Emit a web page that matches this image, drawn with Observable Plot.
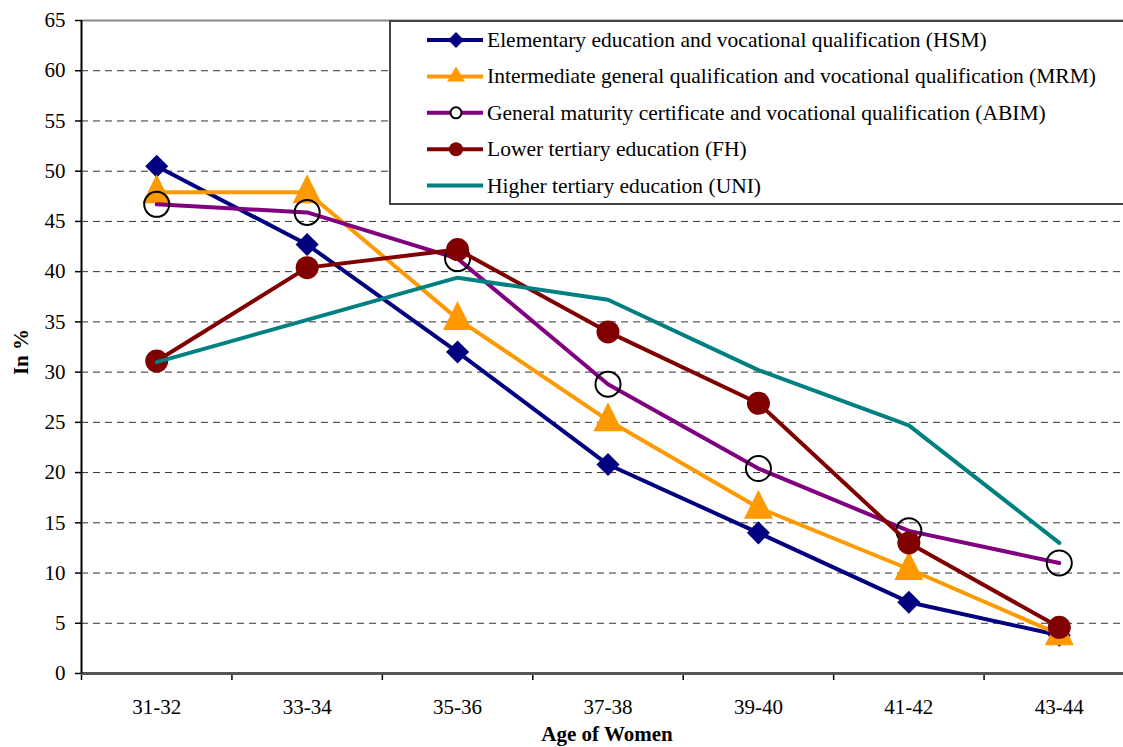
<!DOCTYPE html>
<html><head><meta charset="utf-8">
<script src="https://cdn.jsdelivr.net/npm/d3@7"></script>
<script src="https://cdn.jsdelivr.net/npm/@observablehq/plot@0.6"></script>
<style>
html,body{margin:0;padding:0;background:#fff;overflow:hidden}
#wrap{position:relative;width:1123px;height:747px;overflow:hidden;font-family:"Liberation Serif","Times New Roman",serif;color:#000}
#wrap svg.plot{position:absolute;left:0;top:0}
.ttl{position:absolute;font-weight:bold;font-size:21px;white-space:nowrap;line-height:1}
#legend{position:absolute;left:389px;top:20px;width:820px;height:181px;border:2px solid #444;background:#fff}
</style></head><body><div id="wrap"></div>
<script>
// ---- data ----
const ages = ["31-32","33-34","35-36","37-38","39-40","41-42","43-44"];
const seriesNames = [
  "Elementary education and vocational qualification (HSM)",
  "Intermediate general qualification and vocational qualification (MRM)",
  "General maturity certificate and vocational qualification (ABIM)",
  "Lower tertiary education (FH)",
  "Higher tertiary education (UNI)"
];
const hsm  = [50.5, 42.7, 32.0, 20.8, 14.0, 7.1, 3.8];
const mrm  = [47.9, 47.9, 35.3, 25.2, 16.5, 10.4, 3.9];
const abim = [46.7, 45.9, 41.3, 28.8, 20.4, 14.2, 11.0];
const fh   = [31.1, 40.4, 42.2, 34.0, 26.9, 13.0, 4.6];
const uni  = [31.0, 35.2, 39.4, 37.2, 30.2, 24.7, 13.0];
const seriesValues = [hsm, mrm, abim, fh, uni];
const seriesColors = ["#000080", "#FF9900", "#800080", "#800000", "#008080"];
const yTicks = [0,5,10,15,20,25,30,35,40,45,50,55,60,65];

// ---- build ----
const idx = ages.map((_, i) => i);
const bounds = ages.map((_, i) => i - 0.5).concat([ages.length - 0.5]);
const rows = seriesValues.map(vals => vals.map((v, i) => ({i, v})));

const triangle = {
  draw(ctx, size) {
    const r = Math.sqrt(size / Math.PI);
    const w = r * 1.45, h = r * 2.9;
    ctx.moveTo(0, -0.62 * h);
    ctx.lineTo(w, 0.38 * h);
    ctx.lineTo(-w, 0.38 * h);
    ctx.closePath();
  }
};

const lineW = 4;
const marks = [
  Plot.ruleY(yTicks.filter(t => t > 0 && t < 65), {stroke: "#333", strokeWidth: 1, strokeDasharray: "7,5"}),
  Plot.ruleY([65], {stroke: "#888", strokeWidth: 2}),
  Plot.axisY(yTicks, {tickSize: 6, tickPadding: 10, fontSize: 21, stroke: "#000", strokeWidth: 1.5, label: null}),
  Plot.axisX(bounds, {tickSize: 7, tickFormat: () => "", stroke: "#000", strokeWidth: 1.5, label: null}),
  Plot.axisX(idx, {tickSize: 0, tickPadding: 26, tickFormat: i => ages[i], fontSize: 21, label: null}),
  // HSM
  Plot.line(rows[0], {x: "i", y: "v", stroke: seriesColors[0], strokeWidth: lineW}),
  Plot.dot(rows[0], {x: "i", y: "v", symbol: "diamond2", r: 10.4, fill: seriesColors[0], stroke: "none"}),
  // MRM
  Plot.line(rows[1], {x: "i", y: "v", stroke: seriesColors[1], strokeWidth: lineW}),
  Plot.dot(rows[1], {x: "i", y: "v", symbol: triangle, r: 10, fill: seriesColors[1], stroke: "none"}),
  // ABIM
  Plot.line(rows[2], {x: "i", y: "v", stroke: seriesColors[2], strokeWidth: lineW}),
  Plot.dot(rows[2], {x: "i", y: "v", r: 12.5, fill: "none", stroke: "#000", strokeWidth: 2}),
  // FH
  Plot.line(rows[3], {x: "i", y: "v", stroke: seriesColors[3], strokeWidth: lineW}),
  Plot.dot(rows[3], {x: "i", y: "v", r: 11.5, fill: seriesColors[3], stroke: "none"}),
  // UNI
  Plot.line(rows[4], {x: "i", y: "v", stroke: seriesColors[4], strokeWidth: lineW}),
  // axes lines
  Plot.ruleY([0], {stroke: "#555", strokeWidth: 3}),
  Plot.ruleX([bounds[0]], {y1: 0, y2: 65, stroke: "#000", strokeWidth: 2})
];

const chart = Plot.plot({
  width: 1123,
  height: 747,
  marginTop: 20,
  marginBottom: 74,
  marginLeft: 81,
  marginRight: 0,
  style: {fontFamily: '"Liberation Serif","Times New Roman",serif', fontSize: "21px", color: "#000", background: "#fff", overflow: "hidden"},
  x: {type: "linear", domain: [bounds[0], bounds[bounds.length - 1]], range: [81, 1134], axis: null},
  y: {domain: [0, 65], axis: null},
  marks
});
const wrap = document.getElementById("wrap");
wrap.appendChild(chart);

// axis titles
const yt = document.createElement("div");
yt.className = "ttl";
yt.textContent = "In %";
yt.style.left = "21px"; yt.style.top = "352px";
yt.style.transform = "translate(-50%,-50%) rotate(-90deg)";
wrap.appendChild(yt);

const xt = document.createElement("div");
xt.className = "ttl";
xt.textContent = "Age of Women";
xt.style.left = "607px"; xt.style.top = "724px";
xt.style.transform = "translateX(-50%)";
wrap.appendChild(xt);

// legend
const leg = document.createElement("div");
leg.id = "legend";
wrap.appendChild(leg);
const ns = "http://www.w3.org/2000/svg";
const ls = document.createElementNS(ns, "svg");
ls.setAttribute("width", 820); ls.setAttribute("height", 181);
ls.style.position = "absolute"; ls.style.left = "-2px"; ls.style.top = "-2px"; ls.style.overflow = "visible";
leg.appendChild(ls);
seriesNames.forEach((name, k) => {
  const cy = 20 + k * 36.4;
  const ln = document.createElementNS(ns, "line");
  ln.setAttribute("x1", 38); ln.setAttribute("x2", 94);
  ln.setAttribute("y1", cy); ln.setAttribute("y2", cy);
  ln.setAttribute("stroke", seriesColors[k]); ln.setAttribute("stroke-width", 4);
  ls.appendChild(ln);
  let m = null;
  if (k === 0) {
    m = document.createElementNS(ns, "path");
    m.setAttribute("d", `M67,${cy-8}L75,${cy}L67,${cy+8}L59,${cy}Z`);
    m.setAttribute("fill", seriesColors[0]);
  } else if (k === 1) {
    m = document.createElementNS(ns, "path");
    m.setAttribute("d", `M67,${cy-10}L76,${cy+5}L58,${cy+5}Z`);
    m.setAttribute("fill", seriesColors[1]);
  } else if (k === 2) {
    m = document.createElementNS(ns, "circle");
    m.setAttribute("cx", 67); m.setAttribute("cy", cy); m.setAttribute("r", 5.5);
    m.setAttribute("fill", "#fff"); m.setAttribute("stroke", "#000"); m.setAttribute("stroke-width", 2);
  } else if (k === 3) {
    m = document.createElementNS(ns, "circle");
    m.setAttribute("cx", 67); m.setAttribute("cy", cy); m.setAttribute("r", 7);
    m.setAttribute("fill", seriesColors[3]);
  }
  if (m) ls.appendChild(m);
  const t = document.createElementNS(ns, "text");
  t.setAttribute("x", 98); t.setAttribute("y", cy + 7);
  t.setAttribute("font-size", 21.5);
  t.setAttribute("font-family", '"Liberation Serif","Times New Roman",serif');
  t.setAttribute("fill", "#000");
  t.textContent = name;
  ls.appendChild(t);
});
</script></body></html>
